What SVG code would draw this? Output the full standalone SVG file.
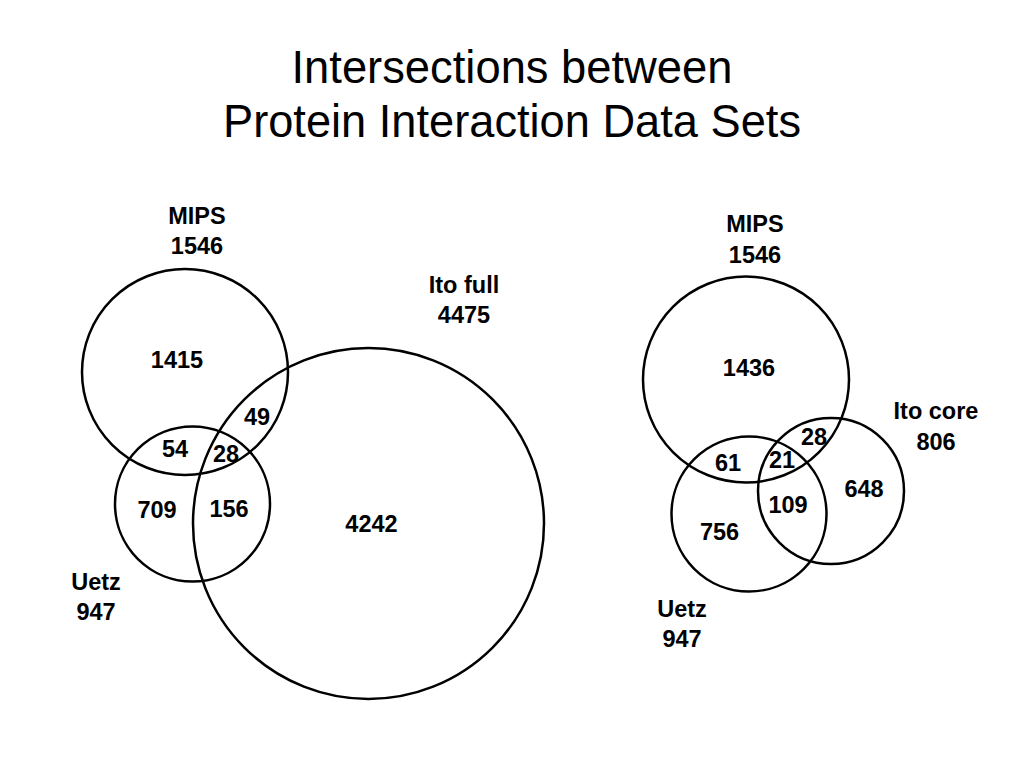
<svg xmlns="http://www.w3.org/2000/svg" width="1024" height="768" viewBox="0 0 1024 768">
<style>
.c{fill:none;stroke:#000;stroke-width:2.5}
.t{font-family:"Liberation Sans",Arial,sans-serif;font-weight:bold;font-size:23.5px;text-anchor:middle;fill:#000}
.h{font-family:"Liberation Sans",Arial,sans-serif;font-size:46px;text-anchor:middle;fill:#000}
</style>
<rect width="1024" height="768" fill="#fff"/>
<g id="title">
<text class="h" x="512" y="83" textLength="441" lengthAdjust="spacingAndGlyphs">Intersections between</text>
<text class="h" x="512" y="137" textLength="578" lengthAdjust="spacingAndGlyphs">Protein Interaction Data Sets</text>
</g>
<g id="left-mips"><circle class="c" cx="185" cy="372" r="103"/>
<text class="t" x="197" y="224">MIPS</text><text class="t" x="197" y="254">1546</text></g>
<g id="left-uetz"><circle class="c" cx="192.5" cy="504" r="77.5"/>
<text class="t" x="96" y="590">Uetz</text><text class="t" x="96" y="620">947</text></g>
<g id="left-ito"><circle class="c" cx="368.5" cy="523.5" r="175.5"/>
<text class="t" x="464" y="293">Ito full</text><text class="t" x="464" y="323">4475</text></g>
<g id="left-regions">
<text class="t" x="177" y="368">1415</text>
<text class="t" x="257" y="425">49</text>
<text class="t" x="175" y="457">54</text>
<text class="t" x="226" y="462">28</text>
<text class="t" x="157" y="518">709</text>
<text class="t" x="229" y="517">156</text>
<text class="t" x="371.5" y="532">4242</text>
</g>
<g id="right-mips"><circle class="c" cx="746" cy="379.5" r="103"/>
<text class="t" x="755" y="232">MIPS</text><text class="t" x="755" y="263">1546</text></g>
<g id="right-uetz"><circle class="c" cx="749" cy="514" r="77.5"/>
<text class="t" x="682" y="617">Uetz</text><text class="t" x="682" y="647">947</text></g>
<g id="right-ito"><circle class="c" cx="831" cy="491" r="73"/>
<text class="t" x="936" y="419">Ito core</text><text class="t" x="936" y="450">806</text></g>
<g id="right-regions">
<text class="t" x="749" y="376">1436</text>
<text class="t" x="814" y="445">28</text>
<text class="t" x="728" y="471">61</text>
<text class="t" x="782" y="468">21</text>
<text class="t" x="864" y="497">648</text>
<text class="t" x="788" y="513">109</text>
<text class="t" x="719.5" y="540">756</text>
</g>
<g id="connectors"></g>
</svg>
